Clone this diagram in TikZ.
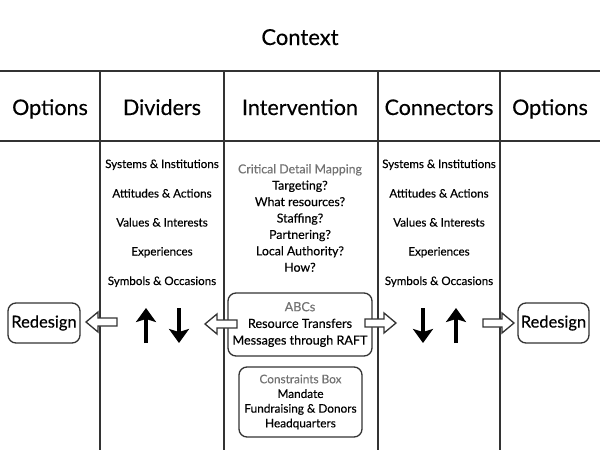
\documentclass[tikz,border=0pt]{standalone}
\usepackage{fontspec}
\setmainfont{Lato}[FakeBold=0.35]
\usetikzlibrary{arrows.meta}

\begin{document}
\begin{tikzpicture}[x=1pt,y=-1pt,
    rule/.style={draw=black!80, line width=1.4pt},
    header/.style={anchor=base, font=\fontsize{21.5}{24}\selectfont},
    item/.style={anchor=base, font=\fontsize{11.6}{13}\selectfont},
    note/.style={align=center, inner sep=0pt},
    softbox/.style={draw=black!80, line width=1.3pt, rounded corners=8pt, align=center, inner sep=0pt},
    hollow/.style={draw=black!80, line width=1.3pt, fill=white, line join=miter},
    updown/.style={line width=3.8pt, -{Stealth[length=14pt,width=20pt,inset=3pt]}}
]
    \useasboundingbox (0,0) rectangle (600,450);

    % grid of the table
    \draw[rule] (0,71) -- (600,71);
    \draw[rule] (0,141) -- (600,141);
    \foreach \x in {100,224,378,500}{
            \draw[rule] (\x,71) -- (\x,450);
    }

    % headers
    \node[header, font=\fontsize{22}{24}\selectfont] (context) at (300,45) {Context};
    \node[header] (optleft) at (50,115) {Options};
    \node[header] (dividers) at (162,115) {Dividers};
    \node[header] (interv) at (300,115) {Intervention};
    \node[header] (connect) at (439,115) {Connectors};
    \node[header] (optright) at (550,115) {Options};

    % the two lists
    \foreach \n/\y/\t in {1/168/Systems \& Institutions, 2/197.5/Attitudes \& Actions,
            3/226.5/Values \& Interests, 4/255.5/Experiences, 5/285/Symbols \& Occasions}{
        \node[item] (div\n) at (162,\y) {\t};
        \node[item] (con\n) at (439,\y) {\t};
    }

    % critical detail mapping (base is the last line)
    \node[note, anchor=base, font=\fontsize{12.3}{16.4}\selectfont] (mapping) at (300,271.7)
        {\textcolor{black!55}{Critical Detail Mapping}\\Targeting?\\What resources?\\Staffing?\\Partnering?\\Local Authority?\\How?};

    % boxes
    \node[softbox, minimum width=144pt, minimum height=63pt, font=\fontsize{12.6}{16.7}\selectfont] (abc) at (300,324.5)
        {\textcolor{black!55}{ABCs}\\Resource Transfers\\Messages through RAFT};
    \node[softbox, minimum width=123pt, minimum height=70pt, font=\fontsize{11.8}{14.7}\selectfont] (constr) at (300.5,402)
        {\textcolor{black!55}{Constraints Box}\\Mandate\\Fundraising \& Donors\\Headquarters};
    \node[softbox, minimum width=72pt, minimum height=40pt, font=\fontsize{16.5}{18}\selectfont] (redleft) at (44,323) {Redesign};
    \node[softbox, minimum width=71pt, minimum height=40pt, font=\fontsize{16.5}{18}\selectfont] (redright) at (553.5,323) {Redesign};

    % hollow arrows
    \foreach \t/\h/\y in {117/86/322, 237/205/324, 365/396/323, 483/514/323}{
        \pgfmathsetmacro\b{\h+12*sign(\t-\h)}
        \draw[hollow] (\t,\y-4) -- (\b,\y-4) -- (\b,\y-10) -- (\h,\y) -- (\b,\y+10) -- (\b,\y+4) -- (\t,\y+4) -- cycle;
    }

    % up and down arrows
    \draw[updown] (146,343) -- (146,308);
    \draw[updown] (179,308) -- (179,343);
    \draw[updown] (423,308) -- (423,343);
    \draw[updown] (456,343) -- (456,308);

\end{tikzpicture}
\end{document}
